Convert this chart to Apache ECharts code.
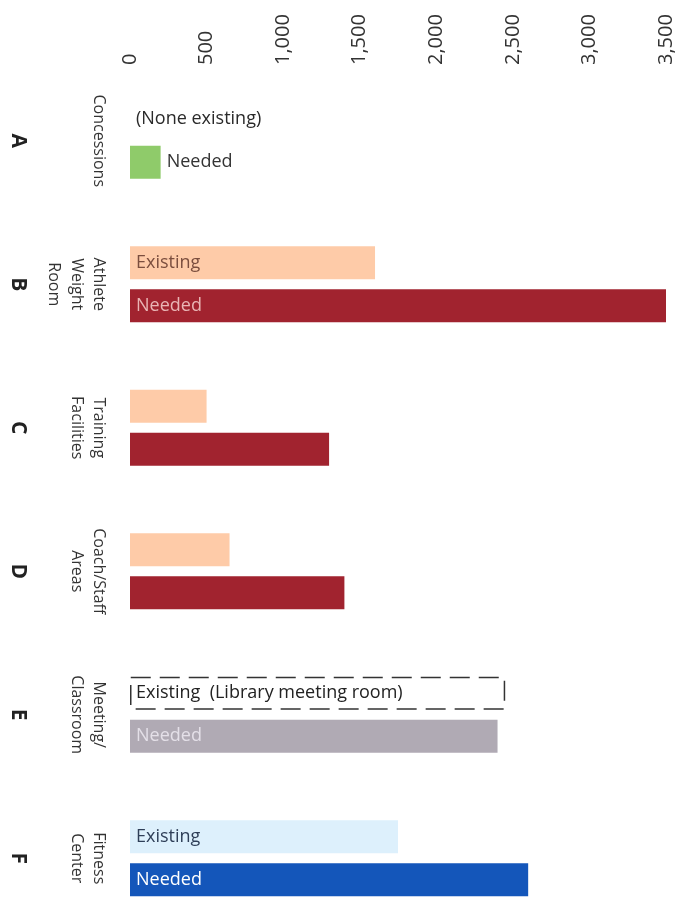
<!DOCTYPE html>
<html>
<head>
<meta charset="utf-8">
<script src="https://cdn.jsdelivr.net/npm/echarts@6/dist/echarts.min.js"></script>
<style>html,body{margin:0;padding:0;background:#fff;overflow:hidden;}#c{width:678px;height:931px;}</style>
</head>
<body>
<div id="c"></div>
<script>
// ---- data ----
const categories = ['A', 'B', 'C', 'D', 'E', 'F'];
const categoryNames = ['Concessions', 'Athlete\nWeight\nRoom', 'Training\nFacilities', 'Coach/Staff\nAreas', 'Meeting/\nClassroom', 'Fitness\nCenter'];
const existing = [0, 1600, 500, 650, 2450, 1750];
const needed = [200, 3500, 1300, 1400, 2400, 2600];
const existingLabels = ['(None existing)', 'Existing', '', '', 'Existing  (Library meeting room)', 'Existing'];
const neededLabels = ['Needed', 'Needed', '', '', 'Needed', 'Needed'];
const valueTicks = [0, 500, 1000, 1500, 2000, 2500, 3000, 3500];

// ---- styles ----
const FONT = 'Open Sans';
const existingStyle = [
  { color: 'rgba(0,0,0,0)', label: { color: '#2a2a2a', position: 'insideLeft' } },
  { color: '#FECBA8', label: { color: '#7B4E3E' } },
  { color: '#FECBA8', label: {} },
  { color: '#FECBA8', label: {} },
  { color: 'rgba(0,0,0,0)', border: true, label: { color: '#222' } },
  { color: '#DDF0FC', label: { color: '#2F3F58' } }
];
const neededStyle = [
  { color: '#8FCB6A', label: { color: '#333', position: 'right' } },
  { color: '#A1232F', label: { color: '#E9B5B5' } },
  { color: '#A1232F', label: {} },
  { color: '#A1232F', label: {} },
  { color: '#B0AAB4', label: { color: '#E4E0E8' } },
  { color: '#1456BA', label: { color: '#ffffff' } }
];

function buildData(values, labels, styles) {
  return values.map((v, i) => {
    const s = styles[i];
    const item = {
      value: v,
      itemStyle: { color: s.color },
      label: Object.assign({
        show: labels[i] !== '',
        formatter: labels[i],
        position: 'insideLeft',
        distance: 6,
        fontFamily: FONT,
        fontSize: 18
      }, s.label)
    };
    if (s.border) {
      item.itemStyle.borderColor = '#333';
      item.itemStyle.borderWidth = 1.5;
      item.itemStyle.borderType = [20, 9];
    }
    return item;
  });
}

const chart = echarts.init(document.getElementById('c'));
chart.setOption({
  animation: false,
  backgroundColor: '#fff',
  grid: { left: 130, top: 69, width: 536, height: 861, containLabel: false },
  xAxis: {
    type: 'value',
    position: 'top',
    min: valueTicks[0],
    max: valueTicks[valueTicks.length - 1],
    interval: valueTicks[1] - valueTicks[0],
    axisLine: { show: false },
    axisTick: { show: false },
    splitLine: { show: false },
    axisLabel: {
      rotate: -90,
      margin: 4,
      fontFamily: FONT,
      fontSize: 20,
      color: '#333',
      formatter: v => v.toLocaleString('en-US')
    }
  },
  yAxis: [
    {
      type: 'category',
      data: categories,
      inverse: true,
      axisLine: { show: false },
      axisTick: { show: false },
      axisLabel: {
        rotate: -90,
        margin: 20,
        fontFamily: FONT,
        fontSize: 16,
        lineHeight: 22.5,
        color: '#333',
        formatter: (v, i) => categoryNames[i]
      }
    },
    {
      type: 'category',
      data: categories,
      inverse: true,
      position: 'left',
      offset: 100,
      axisLine: { show: false },
      axisTick: { show: false },
      axisLabel: {
        rotate: -90,
        margin: 2,
        fontFamily: FONT,
        fontSize: 21,
        fontWeight: 'bold',
        color: '#222'
      }
    }
  ],
  series: [
    {
      name: 'Existing',
      type: 'bar',
      yAxisIndex: 0,
      barWidth: 33,
      barGap: '30%',
      data: buildData(existing, existingLabels, existingStyle)
    },
    {
      name: 'Needed',
      type: 'bar',
      yAxisIndex: 0,
      barWidth: 33,
      barGap: '30%',
      data: buildData(needed, neededLabels, neededStyle)
    }
  ]
});
</script>
</body>
</html>
